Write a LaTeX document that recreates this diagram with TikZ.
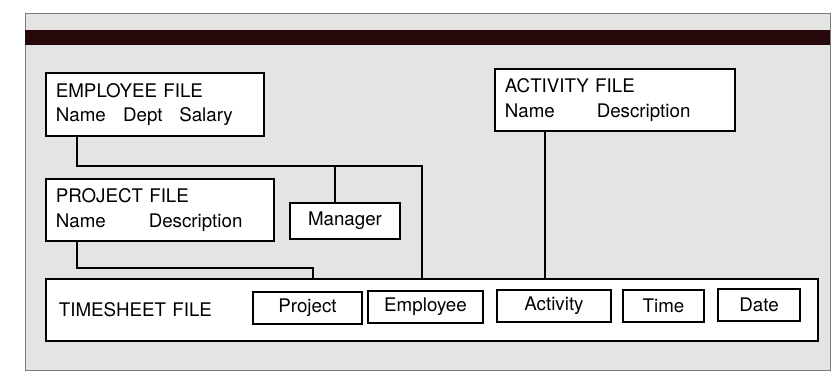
\documentclass[tikz,border=0pt]{standalone}
\usepackage{fontspec}
\setmainfont{TeX Gyre Heros}
\usetikzlibrary{positioning}
\definecolor{panelgray}{RGB}{228,228,226}
\definecolor{framegray}{RGB}{125,125,125}
\definecolor{barmaroon}{RGB}{38,8,10}
\tikzset{%
	filebox/.style={
		draw,
		fill=white,
		line width=1.5pt,
		anchor=north west,
		align=left,
		inner xsep=0.3cm,
		inner ysep=0pt,
		font=\fontsize{16}{21}\selectfont
	},
	fieldbox/.style={
		draw,
		fill=white,
		line width=1.5pt,
		minimum height=0.96cm,
		inner sep=0pt,
		font=\fontsize{16}{21}\selectfont
	},
	link/.style={
		line width=1.2pt
	},
}
\begin{document}
\begin{tikzpicture}[x=0.03cm, y=-0.03cm]
			\useasboundingbox (0,0) rectangle (835,381);
			
			% Draw the panel and its top bar
			\draw[framegray, fill=panelgray, line width=0.8pt] (25,13) rectangle (830,370);
			\fill[barmaroon] (25,30) rectangle (830,45);
			
			% Draw the file boxes
			\node[filebox, text width=5.94cm, minimum height=1.89cm] (emp) at (45,72)
				{EMPLOYEE FILE\\Name\hspace{0.52cm}Dept\hspace{0.5cm}Salary};
			\node[filebox, text width=6.6cm, minimum height=1.86cm] (act) at (494,68)
				{ACTIVITY FILE\\Name\hspace{1.26cm}Description};
			\node[filebox, text width=6.24cm, minimum height=1.86cm] (prj) at (45,178)
				{PROJECT FILE\\Name\hspace{1.29cm}Description};
			\node[fieldbox, minimum width=3.3cm, minimum height=1.08cm] (mgr) at (345,221) {Manager};
			
			% Draw the timesheet and its fields
			\node[filebox, text width=22.38cm, inner xsep=0.39cm, minimum height=1.86cm] (ts) at (45,278)
				{TIMESHEET FILE};
			\node[fieldbox, minimum width=3.27cm] (tsprj) at (307.5,308) {Project};
			\node[fieldbox, minimum width=3.45cm] (tsemp) at (425.5,307) {Employee};
			\node[fieldbox, minimum width=3.42cm] (tsact) at (554,306) {Activity};
			\node[fieldbox, minimum width=2.43cm] (tstime) at (663.5,306) {Time};
			\node[fieldbox, minimum width=2.46cm] (tsdate) at (759,305) {Date};
			
			% Draw the links
			\coordinate (empjoin) at (422,166);
			\coordinate (mgrtap) at (335,166);
			\coordinate (prjjoin) at (313,268);
			\coordinate (acttap) at ([xshift=1.53cm]act.south west);
			\draw[link] ([xshift=0.96cm]emp.south west) |- (empjoin) -- (empjoin |- ts.north);
			\draw[link] (mgrtap) -- (mgrtap |- mgr.north);
			\draw[link] ([xshift=0.96cm]prj.south west) |- (prjjoin) -- (prjjoin |- ts.north);
			\draw[link] (acttap) -- (acttap |- ts.north);
			
		\end{tikzpicture}
\end{document}
